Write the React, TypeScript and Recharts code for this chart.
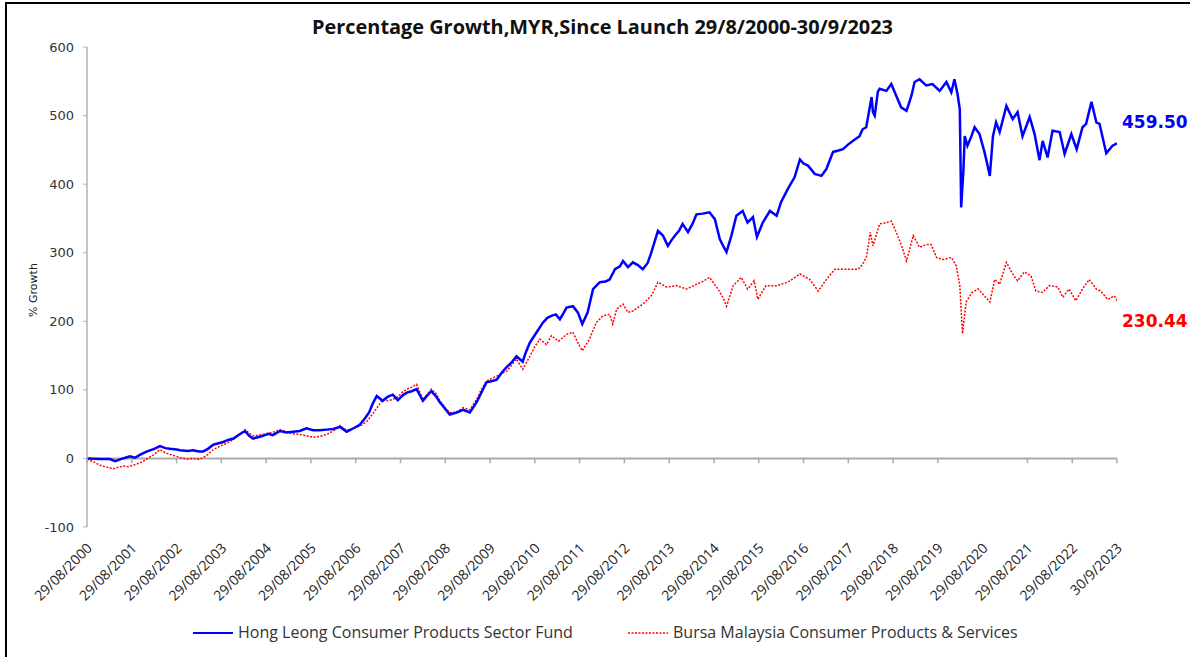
import { LineChart, Line, XAxis, YAxis, ReferenceLine, Legend } from "recharts";

// years since launch (29/8/2000) at which each axis label sits
const yearTicks = [0, 1, 2, 3, 4, 5, 6, 7, 8, 9, 10, 11, 12, 13, 14, 15, 16, 17, 18, 19, 20, 21, 22, 23];
const tickLabels = [
  "29/08/2000", "29/08/2001", "29/08/2002", "29/08/2003", "29/08/2004", "29/08/2005",
  "29/08/2006", "29/08/2007", "29/08/2008", "29/08/2009", "29/08/2010", "29/08/2011",
  "29/08/2012", "29/08/2013", "29/08/2014", "29/08/2015", "29/08/2016", "29/08/2017",
  "29/08/2018", "29/08/2019", "29/08/2020", "29/08/2021", "29/08/2022", "30/9/2023",
];
const tickMarks = [0, 1, 2, 3, 4, 5, 6, 7, 8, 9, 10, 11, 12, 13, 14, 15, 16, 17, 18, 19, 21, 22, 23];
const yTicks = [-100, 0, 100, 200, 300, 400, 500, 600];

// Hong Leong Consumer Products Sector Fund
const fundYears = [
  0, 0.3, 0.51, 0.63, 0.8, 0.96, 1.07, 1.2, 1.33, 1.5, 1.63, 1.75, 1.85, 2.0, 2.08, 2.25, 2.37, 2.5, 2.59, 2.7,
  2.82, 3.04, 3.15, 3.27, 3.4, 3.53, 3.62, 3.71, 3.82, 3.93, 4.05, 4.15, 4.31, 4.45, 4.6, 4.75, 4.9, 5.05, 5.2, 5.35,
  5.5, 5.65, 5.8, 5.95, 6.09, 6.2, 6.3, 6.38, 6.47, 6.6, 6.72, 6.83, 6.94, 7.05, 7.14, 7.25, 7.36, 7.5, 7.6, 7.69,
  7.8, 7.88, 8.0, 8.1, 8.25, 8.4, 8.55, 8.7, 8.8, 8.92, 9.05, 9.15, 9.26, 9.37, 9.48, 9.59, 9.66, 9.73, 9.8, 9.89,
  10.04, 10.18, 10.28, 10.37, 10.47, 10.56, 10.64, 10.71, 10.85, 10.96, 11.06, 11.18, 11.3, 11.45, 11.58, 11.67, 11.79, 11.9, 11.97, 12.08,
  12.19, 12.3, 12.41, 12.52, 12.6, 12.75, 12.86, 12.97, 13.05, 13.13, 13.22, 13.3, 13.42, 13.52, 13.61, 13.75, 13.9, 14.02, 14.13, 14.22,
  14.28, 14.39, 14.5, 14.64, 14.75, 14.87, 14.96, 15.09, 15.25, 15.4, 15.5, 15.65, 15.8, 15.92, 16.0, 16.1, 16.25, 16.4, 16.51, 16.66,
  16.78, 16.88, 17.0, 17.1, 17.25, 17.32, 17.4, 17.46, 17.52, 17.55, 17.59, 17.66, 17.7, 17.85, 17.96, 18.07, 18.18, 18.3, 18.41, 18.48,
  18.59, 18.74, 18.88, 19.04, 19.19, 19.3, 19.37, 19.44, 19.49, 19.52, 19.57, 19.6, 19.66, 19.75, 19.82, 19.93, 20.04, 20.1, 20.16, 20.23,
  20.3, 20.38, 20.53, 20.67, 20.78, 20.89, 21.05, 21.16, 21.27, 21.34, 21.45, 21.56, 21.72, 21.83, 21.98, 22.1, 22.23, 22.31, 22.43, 22.54,
  22.61, 22.76, 22.9, 23.0,
];
const fundGrowth = [
  0, -1, -1, -4, 0, 3, 1, 6, 10, 14, 18, 15, 14, 13, 12, 11, 12, 10, 10, 14,
  20, 24, 27, 29, 35, 40, 33, 29, 31, 33, 36, 34, 40, 38, 39, 40, 44, 41, 41, 42,
  43, 46, 39, 44, 49, 58, 67, 80, 91, 84, 90, 93, 85, 92, 96, 98, 101, 84, 92, 98,
  90, 82, 72, 64, 67, 71, 67, 82, 95, 111, 113, 115, 125, 133, 140, 149, 145, 141, 155, 169,
  184, 198, 205, 208, 210, 203, 212, 220, 222, 213, 196, 213, 247, 257, 258, 261, 276, 280, 288, 279,
  286, 282, 276, 285, 300, 332, 325, 310, 318, 325, 332, 342, 330, 342, 356, 357, 359, 349, 320, 308,
  301, 325, 354, 361, 344, 352, 323, 344, 361, 354, 374, 393, 410, 436, 430, 427, 415, 412, 422, 447,
  449, 451, 458, 463, 470, 480, 483, 505, 527, 505, 500, 535, 539, 536, 546, 529, 512, 507, 529, 549,
  553, 544, 546, 536, 549, 534, 553, 531, 509, 366, 420, 470, 456, 470, 483, 473, 447, 430, 412, 470,
  490, 476, 514, 495, 505, 470, 498, 473, 435, 463, 439, 478, 476, 444, 473, 451, 483, 488, 520, 490,
  488, 445, 456, 459.5,
];

// Bursa Malaysia Consumer Products & Services
const indexYears = [
  0, 0.15, 0.29, 0.45, 0.59, 0.7, 0.81, 0.92, 1.03, 1.2, 1.33, 1.5, 1.63, 1.75, 1.85, 2.0, 2.08, 2.25, 2.37, 2.5,
  2.59, 2.7, 2.82, 3.04, 3.15, 3.27, 3.4, 3.53, 3.62, 3.71, 3.82, 3.93, 4.05, 4.15, 4.31, 4.45, 4.6, 4.75, 4.9, 5.05,
  5.2, 5.35, 5.5, 5.65, 5.8, 5.95, 6.09, 6.25, 6.38, 6.47, 6.6, 6.72, 6.83, 6.94, 7.05, 7.14, 7.25, 7.36, 7.5, 7.6,
  7.69, 7.8, 7.88, 8.0, 8.1, 8.25, 8.4, 8.55, 8.7, 8.8, 8.92, 9.05, 9.15, 9.26, 9.37, 9.48, 9.59, 9.73, 9.89, 10.0,
  10.11, 10.26, 10.37, 10.53, 10.71, 10.85, 10.96, 11.06, 11.22, 11.37, 11.52, 11.67, 11.74, 11.83, 11.97, 12.08, 12.19, 12.3, 12.41, 12.6,
  12.75, 12.94, 13.16, 13.39, 13.61, 13.75, 13.9, 14.09, 14.2, 14.28, 14.43, 14.61, 14.75, 14.9, 14.98, 15.16, 15.4, 15.65, 15.92, 16.14,
  16.33, 16.51, 16.7, 16.96, 17.22, 17.32, 17.41, 17.49, 17.55, 17.62, 17.7, 17.85, 17.96, 18.07, 18.18, 18.3, 18.45, 18.59, 18.74, 18.85,
  18.97, 19.12, 19.3, 19.41, 19.49, 19.55, 19.63, 19.76, 19.9, 20.04, 20.16, 20.27, 20.38, 20.53, 20.67, 20.78, 20.93, 21.08, 21.19, 21.34,
  21.49, 21.68, 21.79, 21.93, 22.08, 22.23, 22.38, 22.54, 22.64, 22.79, 22.94, 23.0,
];
const indexGrowth = [
  -1, -5, -10, -13, -15, -13, -11, -12, -10, -6, -1, 6, 13, 8, 6, 3, 1, -1, 0, -1,
  1, 6, 13, 20, 23, 28, 35, 42, 37, 33, 34, 35, 37, 38, 42, 39, 36, 35, 33, 31,
  32, 35, 40, 48, 41, 44, 47, 54, 65, 73, 86, 84, 86, 90, 97, 101, 104, 108, 86, 94,
  101, 94, 84, 74, 67, 67, 74, 71, 86, 100, 113, 117, 120, 124, 127, 136, 145, 130, 149, 163,
  174, 166, 179, 171, 181, 184, 169, 157, 174, 198, 208, 210, 196, 218, 225, 213, 215, 220, 225, 237,
  257, 250, 252, 247, 254, 258, 264, 247, 235, 222, 252, 264, 247, 259, 232, 252, 252, 257, 269, 261,
  244, 261, 276, 276, 276, 283, 295, 330, 310, 325, 342, 344, 346, 330, 312, 288, 325, 308, 312, 312,
  293, 290, 293, 281, 252, 182, 228, 242, 247, 237, 228, 261, 254, 286, 269, 259, 272, 266, 244, 242,
  252, 250, 235, 247, 230, 247, 261, 247, 244, 232, 237, 230.44,
];

const fundData = fundYears.map((t, i) => ({ t, value: fundGrowth[i] }));
const indexData = indexYears.map((t, i) => ({ t, value: indexGrowth[i] }));

const BLUE = "#0000ff";
const RED = "#ff0000";
const CAL = "'Open Sans', Lato, sans-serif";
const SANS = "'DejaVu Sans', Arial, sans-serif";

const XTick = ({ x, y, payload }: any) => {
  const ax = x + 6;
  const ay = y + 14;
  return (
    <text
      x={ax}
      y={ay}
      transform={`rotate(-45, ${ax}, ${ay})`}
      textAnchor="end"
      fontSize={14}
      fontFamily={CAL}
      fill="#222"
    >
      {tickLabels[yearTicks.indexOf(payload.value)]}
    </text>
  );
};

const endLabel = (count: number, color: string, dy: number) => (props: any) => {
  const { x, y, index, value } = props;
  if (index !== count - 1) return <g />;
  return (
    <text x={x + 5} y={y + dy} fill={color} fontSize={17} fontWeight="bold" fontFamily={SANS}>
      {Number(value).toFixed(2)}
    </text>
  );
};

const LegendBox = () => (
  <div style={{ position: "relative", height: 24, fontFamily: CAL, fontSize: 16, color: "#333" }}>
    <svg style={{ position: "absolute", left: 193, top: 9 }} width={40} height={6}>
      <line x1={0} y1={3} x2={40} y2={3} stroke={BLUE} strokeWidth={2} />
    </svg>
    <span style={{ position: "absolute", left: 238, top: 0 }}>Hong Leong Consumer Products Sector Fund</span>
    <svg style={{ position: "absolute", left: 628, top: 9 }} width={40} height={6}>
      <line x1={0} y1={3} x2={40} y2={3} stroke={RED} strokeWidth={1.5} strokeDasharray="2 1.5" />
    </svg>
    <span style={{ position: "absolute", left: 673, top: 0 }}>Bursa Malaysia Consumer Products &amp; Services</span>
  </div>
);

export default function App() {
  return (
    <div style={{ position: "fixed", left: 0, top: 0, width: 1190, height: 657, background: "#fff", overflow: "hidden" }}>
      <div
        style={{
          position: "absolute",
          left: 5,
          top: 2,
          width: 1300,
          height: 800,
          borderLeft: "2px solid #000",
          borderTop: "2px solid #000",
        }}
      />
      <div
        style={{
          position: "absolute",
          left: 0,
          top: 13,
          width: 1205,
          textAlign: "center",
          fontFamily: CAL,
          fontWeight: "bold",
          fontSize: 19.9,
          color: "#111",
        }}
      >
        Percentage Growth,MYR,Since Launch 29/8/2000-30/9/2023
      </div>
      <div
        style={{
          position: "absolute",
          left: 33,
          top: 290,
          transform: "translate(-50%, -50%) rotate(-90deg)",
          fontFamily: SANS,
          fontSize: 11,
          color: "#222",
          whiteSpace: "nowrap",
        }}
      >
        % Growth
      </div>
      <LineChart width={1190} height={657} margin={{ top: 47, right: 73, left: 27, bottom: 60 }}>
        <XAxis
          type="number"
          dataKey="t"
          domain={[0, 23]}
          ticks={yearTicks}
          interval={0}
          axisLine={false}
          tickLine={false}
          height={70}
          tick={<XTick />}
          allowDataOverflow
        />
        <YAxis
          type="number"
          domain={[-100, 600]}
          ticks={yTicks}
          interval={0}
          width={60}
          axisLine={{ stroke: "#b3b3b3", strokeWidth: 1.5 }}
          tickLine={{ stroke: "#b3b3b3" }}
          tickSize={4}
          tickMargin={9}
          tick={{ fontSize: 13, fill: "#333", fontFamily: SANS }}
        />
        <ReferenceLine y={0} stroke="#a9a9a9" strokeWidth={2} />
        {tickMarks.map((t) => (
          <ReferenceLine
            key={t}
            segment={[
              { x: t, y: 0 },
              { x: t, y: -7 },
            ]}
            stroke="#a9a9a9"
            strokeWidth={1.5}
          />
        ))}
        <Line
          data={indexData}
          dataKey="value"
          type="linear"
          stroke={RED}
          strokeWidth={1.5}
          strokeDasharray="2 1.5"
          dot={false}
          isAnimationActive={false}
          label={endLabel(indexData.length, RED, 27)}
          name="Bursa Malaysia Consumer Products & Services"
        />
        <Line
          data={fundData}
          dataKey="value"
          type="linear"
          stroke={BLUE}
          strokeWidth={2.5}
          dot={false}
          isAnimationActive={false}
          label={endLabel(fundData.length, BLUE, -15)}
          name="Hong Leong Consumer Products Sector Fund"
        />
        <Legend
          layout="horizontal"
          verticalAlign="middle"
          align="center"
          wrapperStyle={{ top: 621, left: 0, width: 1190, height: 24 }}
          content={() => <LegendBox />}
        />
      </LineChart>
    </div>
  );
}
